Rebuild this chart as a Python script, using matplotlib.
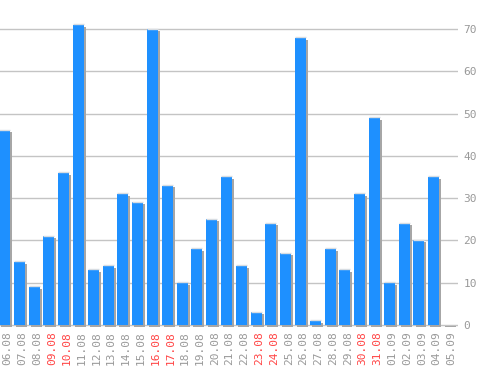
import numpy as np
import matplotlib.pyplot as plt
from matplotlib.transforms import ScaledTranslation

# daily counts
dates = ['06.08', '07.08', '08.08', '09.08', '10.08', '11.08', '12.08', '13.08',
         '14.08', '15.08', '16.08', '17.08', '18.08', '19.08', '20.08', '21.08',
         '22.08', '23.08', '24.08', '25.08', '26.08', '27.08', '28.08', '29.08',
         '30.08', '31.08', '01.09', '02.09', '03.09', '04.09', '05.09']
values = [46, 15, 9, 21, 36, 71, 13, 14, 31, 29, 70, 33, 10, 18, 25, 35,
          14, 3, 24, 17, 68, 1, 18, 13, 31, 49, 10, 24, 20, 35, 0]
weekends = ['09.08', '10.08', '16.08', '17.08', '23.08', '24.08', '30.08', '31.08']

x = np.arange(len(dates))
vals = np.array(values, dtype=float)

fig = plt.figure(figsize=(4.98, 3.70), dpi=100)
ax = fig.add_axes([0, 43 / 370, 458 / 498, 327 / 370])

# shadow, bar, top highlight
ax.bar(x + 0.14, np.maximum(vals, 0.3), width=0.74, bottom=-0.45,
       color='#a6a6a6', linewidth=0, zorder=2)
ax.bar(x, vals, width=0.74, color='#1e90ff', linewidth=0, zorder=3)
ax.hlines(vals[vals > 0] + 0.15, x[vals > 0] - 0.37, x[vals > 0] + 0.37,
          color='#d8dde2', lw=1, zorder=4)

ax.set_xlim(-0.30, 30.64)
ax.set_ylim(-0.47, 76.9)

ax.set_yticks(range(0, 71, 10))
ax.yaxis.tick_right()
ax.grid(axis='y', color='#c4c4c4', lw=1, zorder=0)
ax.tick_params(axis='y', length=0, pad=4, labelsize=8, labelcolor='#999999')

ax.set_xticks(x)
ax.set_xticklabels(dates, rotation=90, fontsize=8)
ax.tick_params(axis='x', length=0, pad=3)
offset = ScaledTranslation(3 / 100, 0, fig.dpi_scale_trans)
for lab in ax.get_xticklabels():
    lab.set_transform(lab.get_transform() + offset)
    lab.set_color('#ff4444' if lab.get_text() in weekends else '#999999')

for lab in ax.get_xticklabels() + ax.get_yticklabels():
    lab.set_family('DejaVu Sans Mono')

for s in ax.spines.values():
    s.set_visible(False)

fig.savefig('out.png', dpi=100, facecolor='white')
